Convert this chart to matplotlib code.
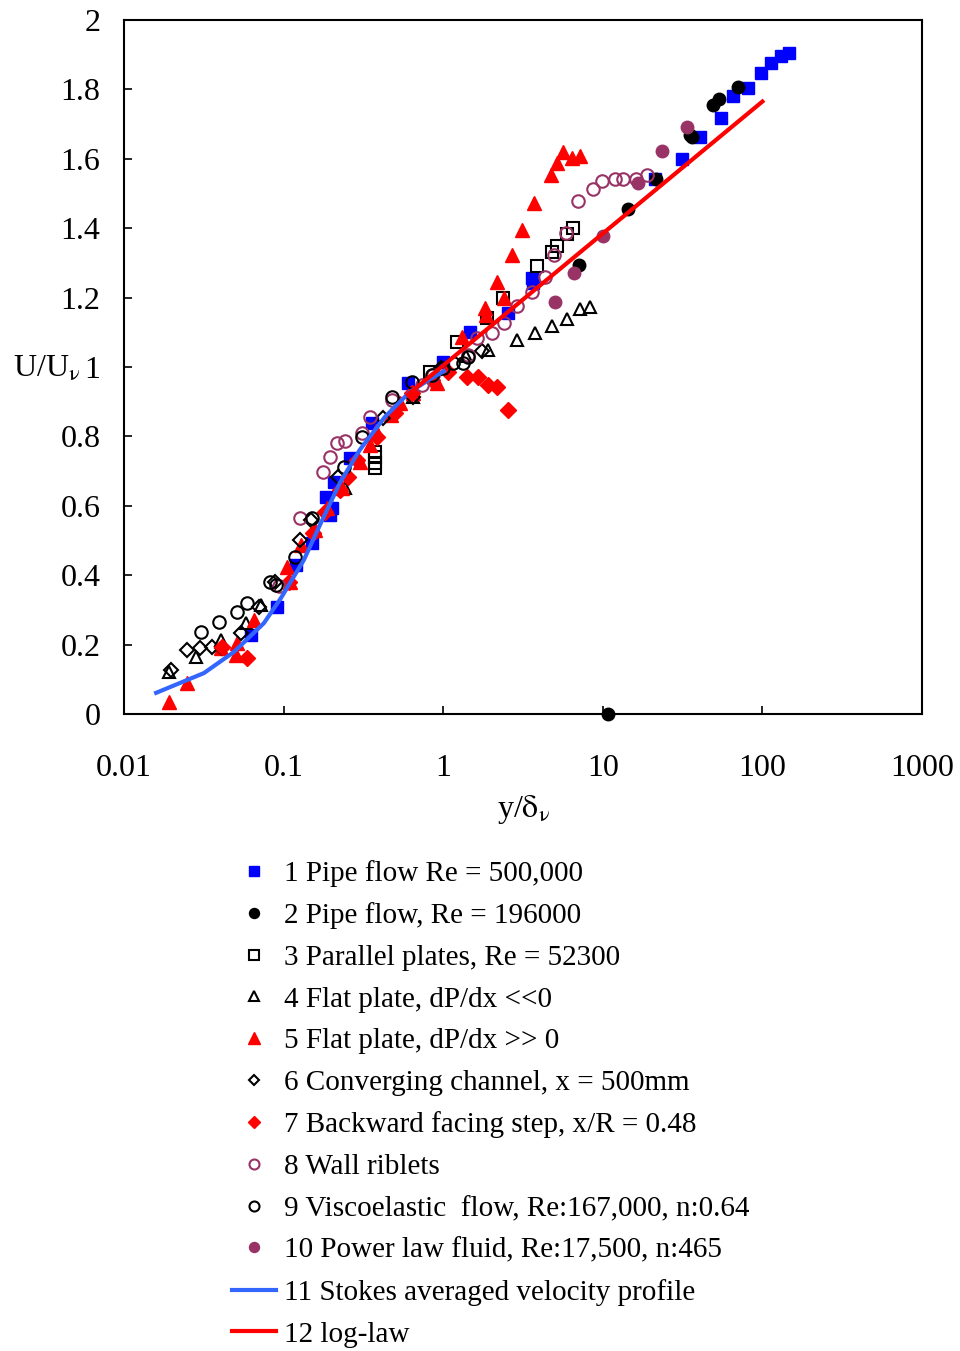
import numpy as np
import matplotlib
matplotlib.use("Agg")
import matplotlib.pyplot as plt

plt.rcParams['font.family'] = ['Liberation Serif', 'DejaVu Serif']
plt.rcParams['mathtext.fontset'] = 'stix'

# 1 Pipe flow Re = 500,000
pipe1_x = [0.0624, 0.0908, 0.119, 0.150, 0.195, 0.200, 0.185, 0.207, 0.260, 0.357, 0.60,
           0.99, 1.47, 2.54, 3.64, 3.60, 21.1, 31.2, 40.4, 54.7, 65.1, 80.8, 97.5, 112.5, 130, 146]
pipe1_y = [0.228, 0.308, 0.429, 0.493, 0.573, 0.594, 0.625, 0.669, 0.738, 0.839, 0.954,
           1.014, 1.10, 1.156, 1.242, 1.256, 1.542, 1.599, 1.663, 1.718, 1.781, 1.804, 1.847, 1.876, 1.896, 1.905]

# 2 Pipe flow, Re = 196000
pipe2_x = [10.8, 7.06, 14.3, 21.4, 36.0, 35.3, 48.8, 53.2, 70.0]
pipe2_y = [0.0, 1.294, 1.455, 1.542, 1.663, 1.670, 1.755, 1.772, 1.807]

# 3 Parallel plates, Re = 52300
plates_x = [0.373, 0.373, 0.373, 0.373, 0.824, 1.22, 1.87, 2.36, 3.86, 4.79, 5.14, 5.94, 6.48]
plates_y = [0.755, 0.741, 0.723, 0.709, 0.986, 1.072, 1.141, 1.199, 1.291, 1.331, 1.349, 1.383, 1.401]

# 4 Flat plate, dP/dx << 0
fpneg_x = [0.0191, 0.0282, 0.0405, 0.058, 0.0721, 0.242, 0.645, 1.38, 1.90, 2.89, 3.75, 4.79, 5.94, 7.16, 8.28]
fpneg_y = [0.121, 0.164, 0.213, 0.262, 0.314, 0.651, 0.914, 1.032, 1.049, 1.078, 1.098, 1.118, 1.138, 1.167, 1.173]

# 5 Flat plate, dP/dx >> 0
fppos_x = [0.0191, 0.0248, 0.0405, 0.0503, 0.0512, 0.0652, 0.109, 0.105, 0.128, 0.157, 0.187, 0.232,
           0.300, 0.347, 0.378, 0.470, 0.535, 0.645, 0.912, 1.31, 1.85, 1.82, 2.17, 2.39, 2.69, 3.10,
           3.69, 4.72, 5.14, 5.61, 6.38, 7.16]
fppos_y = [0.035, 0.089, 0.190, 0.170, 0.205, 0.271, 0.380, 0.424, 0.487, 0.530, 0.594, 0.651,
           0.726, 0.775, 0.816, 0.862, 0.896, 0.925, 0.954, 1.086, 1.150, 1.170, 1.245, 1.199, 1.323, 1.395,
           1.473, 1.553, 1.588, 1.620, 1.602, 1.608]

# 6 Converging channel, x = 500mm
conv_x = [0.0197, 0.0248, 0.0299, 0.0356, 0.0411, 0.054, 0.070, 0.0883, 0.126, 0.148, 0.219, 0.419,
          0.645, 0.966, 1.75]
conv_y = [0.127, 0.184, 0.190, 0.193, 0.190, 0.233, 0.308, 0.380, 0.501, 0.559, 0.683, 0.853,
          0.914, 0.997, 1.046]

# 7 Backward facing step, x/R = 0.48
step_x = [0.0411, 0.0589, 0.108, 0.153, 0.181, 0.225, 0.253, 0.288, 0.384, 0.498, 0.636, 0.849,
          1.07, 1.41, 1.65, 1.90, 2.17, 2.54]
step_y = [0.193, 0.161, 0.380, 0.522, 0.582, 0.646, 0.683, 0.732, 0.798, 0.867, 0.925, 0.963,
          0.986, 0.971, 0.971, 0.948, 0.942, 0.876]

# 8 Wall riblets
riblet_x = [0.0935, 0.126, 0.176, 0.195, 0.216, 0.242, 0.309, 0.347, 0.477, 0.735, 0.861, 1.43, 1.62,
            2.02, 2.39, 2.89, 3.59, 4.33, 4.93, 5.86, 6.97, 8.65, 9.84, 11.9, 13.3, 16.1, 18.8]
riblet_y = [0.369, 0.565, 0.697, 0.741, 0.781, 0.787, 0.810, 0.856, 0.905, 0.948, 0.977, 1.035, 1.084,
            1.098, 1.127, 1.176, 1.216, 1.259, 1.323, 1.386, 1.478, 1.513, 1.536, 1.542, 1.542, 1.542, 1.553]

# 9 Viscoelastic flow
visco_x = [0.0303, 0.0394, 0.051, 0.0589, 0.082, 0.0895, 0.118, 0.150, 0.239, 0.309, 0.477, 0.636,
           0.849, 0.99, 1.15, 1.33, 1.43]
visco_y = [0.236, 0.265, 0.294, 0.320, 0.380, 0.372, 0.452, 0.565, 0.712, 0.798, 0.914, 0.957,
           0.977, 0.997, 1.012, 1.012, 1.029]

# 10 Power law fluid
power_x = [5.0, 6.57, 9.98, 16.5, 23.4, 33.5]
power_y = [1.187, 1.271, 1.378, 1.530, 1.622, 1.692]

# 11 Stokes averaged velocity profile
stokes_x = [0.0159, 0.0317, 0.0489, 0.0753, 0.0962, 0.134, 0.169, 0.225, 0.300, 0.431, 0.618, 0.826, 1.01]
stokes_y = [0.061, 0.118, 0.179, 0.262, 0.334, 0.444, 0.545, 0.666, 0.761, 0.856, 0.928, 0.965, 0.988]

# 12 log-law
loglaw_x = [0.6, 100]
loglaw_y = [0.92, 1.765]

purple = '#993366'
ms = 9

fig = plt.figure(figsize=(9.6, 13.51), dpi=100)
ax = fig.add_axes([124/960, 1 - 714/1351, 798/960, 694/1351])

ax.plot(pipe1_x, pipe1_y, 's', color='#0000ff', ms=ms, label='1 Pipe flow Re = 500,000')
ax.plot(pipe2_x, pipe2_y, 'o', color='black', ms=ms, clip_on=False, label='2 Pipe flow, Re = 196000')
ax.plot(plates_x, plates_y, 's', mfc='none', mec='black', mew=1.5, ms=ms, label='3 Parallel plates, Re = 52300')
ax.plot(fpneg_x, fpneg_y, '^', mfc='none', mec='black', mew=1.5, ms=ms, label='4 Flat plate, dP/dx <<0')
ax.plot(fppos_x, fppos_y, '^', color='#ff0000', ms=ms + 1, label='5 Flat plate, dP/dx >> 0')
ax.plot(conv_x, conv_y, 'D', mfc='none', mec='black', mew=1.5, ms=ms - 2, label='6 Converging channel, x = 500mm')
ax.plot(step_x, step_y, 'D', color='#ff0000', ms=ms - 1, label='7 Backward facing step, x/R = 0.48')
ax.plot(riblet_x, riblet_y, 'o', mfc='none', mec=purple, mew=1.5, ms=ms, label='8 Wall riblets')
ax.plot(visco_x, visco_y, 'o', mfc='none', mec='black', mew=1.5, ms=ms, label='9 Viscoelastic  flow, Re:167,000, n:0.64')
ax.plot(power_x, power_y, 'o', color=purple, ms=ms, label='10 Power law fluid, Re:17,500, n:465')
ax.plot(stokes_x, stokes_y, '-', color='#3366ff', lw=3, label='11 Stokes averaged velocity profile')
ax.plot(loglaw_x, loglaw_y, '-', color='#ff0000', lw=3, label='12 log-law')

ax.set_xscale('log')
ax.set_xlim(0.01, 1000)
ax.set_ylim(0, 2)
ax.set_yticks(np.arange(0, 2.01, 0.2))
ax.set_yticklabels(['0', '0.2', '0.4', '0.6', '0.8', '1', '1.2', '1.4', '1.6', '1.8', '2'])
ax.set_xticks([0.01, 0.1, 1, 10, 100, 1000])
ax.set_xticklabels(['0.01', '0.1', '1', '10', '100', '1000'])
ax.minorticks_off()
ax.tick_params(direction='in', length=6, width=1.2, labelsize=23)
ax.tick_params(axis='x', pad=29)
ax.tick_params(axis='y', pad=17)
for s in ax.spines.values():
    s.set_linewidth(1.5)

fig.text(13/960, 1 - 369/1351, r'U/U$_{\mathrm{\nu}}$', fontsize=23, ha='left', va='center')
fig.text(524/960, 1 - 809/1351, r'y/$\mathrm{\delta}_{\mathrm{\nu}}$', fontsize=23, ha='center', va='center')

ax.legend(loc='upper left', bbox_to_anchor=(232/960, 1 - 860/1351), bbox_transform=fig.transFigure,
          frameon=False, fontsize=21, markerscale=0.8, handlelength=1.5, handletextpad=0.3,
          labelspacing=0.525, borderpad=0, borderaxespad=0)

fig.savefig('out.png', dpi=100)
